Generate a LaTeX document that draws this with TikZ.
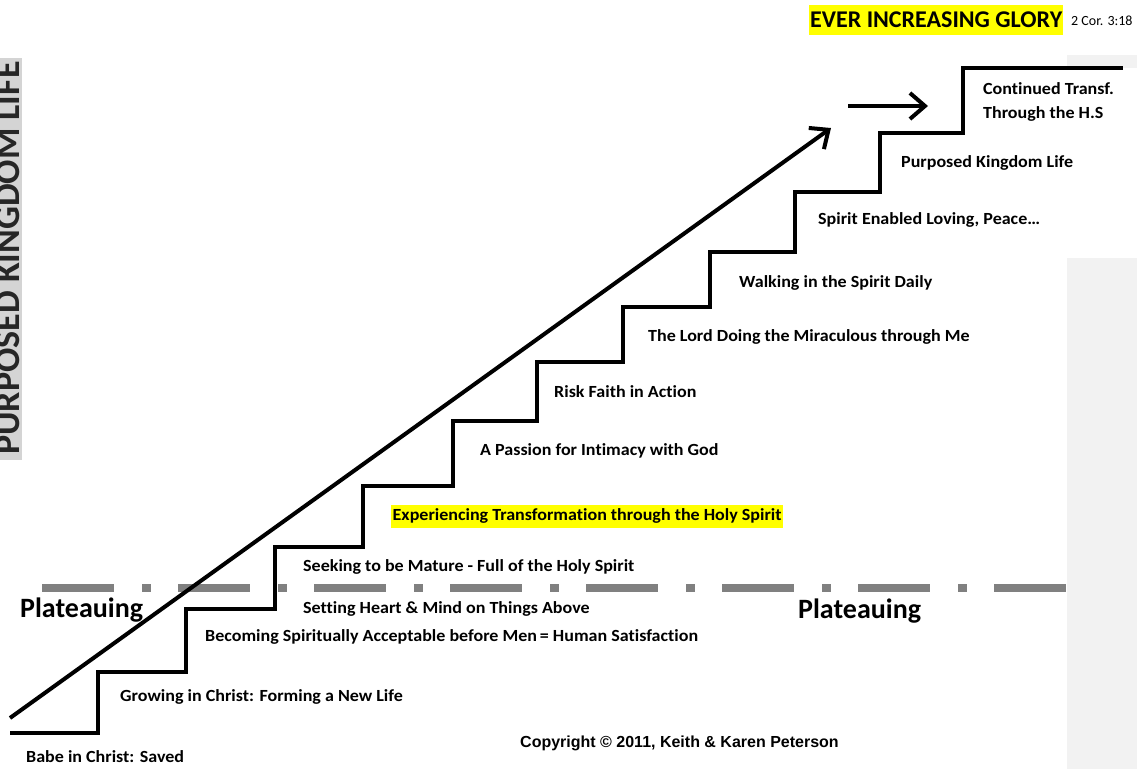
\documentclass[tikz,border=0pt]{standalone}
\usepackage{fontspec}
\setmainfont{Carlito}[Ligatures=NoCommon]
\newfontfamily\lblfont{Carlito}[Ligatures=NoCommon,FakeStretch=1.06]
\newfontfamily\arialfont{Liberation Sans}
\usetikzlibrary{arrows.meta}
\definecolor{hiyellow}{HTML}{FFFF00}
\definecolor{panelgray}{HTML}{F2F2F2}
\definecolor{sidegray}{HTML}{D4D4D4}
\definecolor{dashgray}{HTML}{808080}
\begin{document}
\begin{tikzpicture}[x=1pt,y=-1pt,
  lbl/.style={anchor=west,inner sep=0pt,font=\lblfont\fontsize{17}{20}\selectfont\bfseries},
  plat/.style={anchor=west,inner sep=0pt,font=\fontsize{28}{32}\selectfont\bfseries},
  stair/.style={line width=4pt,line join=miter,line cap=butt},
  bigarrow/.style={line width=4pt,-{Straight Barb[length=15pt,width=26pt]}}]
\useasboundingbox (0,0) rectangle (1137,769);
\fill[white] (0,0) rectangle (1137,769);
% background panels
\fill[panelgray] (1067,258) rectangle (1137,769);
\fill[panelgray] (1067,55) rectangle (1137,68);
\fill[sidegray] (0,58) rectangle (22,460);
\begin{scope}
  \clip (0,58) rectangle (22,460);
  \node[rotate=90,anchor=base,inner sep=0pt,font=\fontsize{36}{40}\selectfont\bfseries,text=black!85] (side) at (19,258) {PURPOSED KINGDOM LIFE};
\end{scope}
% title
\node[anchor=west,fill=hiyellow,inner sep=1pt,minimum height=30pt,font=\fontsize{24}{28}\selectfont\bfseries] (title) at (809,20) {EVER INCREASING GLORY};
\node[anchor=west,inner sep=0pt,font=\fontsize{14}{16}\selectfont] (ref) at (1071,21) {2 Cor. 3:18};
% dashed plateau line
\draw[dashgray,line width=8pt,dash pattern=on 72pt off 28pt on 9pt off 27pt] (42,588) coordinate (d1) -- (1070,588) coordinate (d2);
% staircase
\draw[stair] (10,733) -- (98,733) -- (98,672) -- (186,672) -- (186,609) -- (275,609) -- (275,547)
  -- (363,547) -- (363,486) -- (453,486) -- (453,421) -- (537,421) -- (537,362)
  -- (623,362) -- (623,307) -- (710,307) -- (710,252) -- (795,252) -- (795,192)
  -- (880,192) -- (880,133) -- (963,133) -- (963,68) -- (1123,68);
% arrows
\coordinate (a1) at (10,718);
\coordinate (a2) at (831,128);
\coordinate (h1) at (848,106);
\coordinate (h2) at (928,106);
\draw[bigarrow] (a1) -- (a2);
\draw[bigarrow] (h1) -- (h2);
% step labels
\node[lbl] (s1) at (26,757) {Babe in Christ: Saved};
\node[lbl] (s2) at (120,697) {Growing in Christ: Forming a New Life};
\node[lbl] (s3) at (205,637) {Becoming Spiritually Acceptable before Men\,= Human Satisfaction};
\node[lbl] (s4) at (303,609) {Setting Heart \& Mind on Things Above};
\node[lbl] (s5) at (303,567) {Seeking to be Mature - Full of the Holy Spirit};
\node[lbl,fill=hiyellow,inner sep=1.5pt,minimum height=23pt] (s6) at (391,516) {Experiencing Transformation through the Holy Spirit};
\node[lbl] (s7) at (480,451) {A Passion for Intimacy with God};
\node[lbl] (s8) at (554,392) {Risk Faith in Action};
\node[lbl] (s9) at (648,337) {The Lord Doing the Miraculous through Me};
\node[lbl] (s10) at (739,283) {Walking in the Spirit Daily};
\node[lbl] (s11) at (818,220) {Spirit Enabled Loving, Peace…};
\node[lbl] (s12) at (901,163) {Purposed Kingdom Life};
\node[lbl] (s13a) at (983,89) {Continued Transf.};
\node[lbl] (s13b) at (983,114) {Through the H.S};
% plateau labels
\node[plat] (p1) at (20,610) {Plateauing};
\node[plat] (p2) at (798,611) {Plateauing};
% copyright
\node[anchor=west,inner sep=0pt,font=\arialfont\fontsize{16}{18}\selectfont\bfseries] (copy) at (520,743) {Copyright © 2011, Keith \& Karen Peterson};
\end{tikzpicture}
\end{document}
